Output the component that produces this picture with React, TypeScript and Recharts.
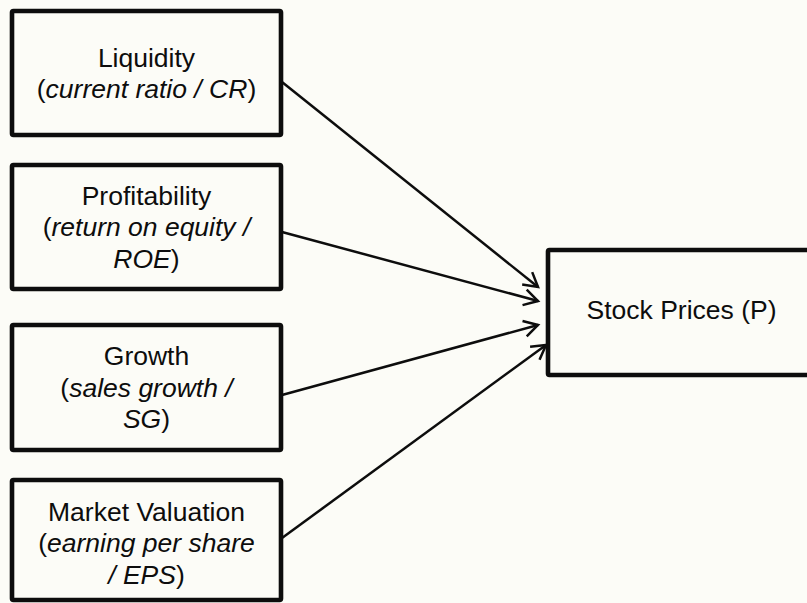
import React from 'react';
import { ComposedChart, XAxis, YAxis, ReferenceArea, ReferenceLine } from 'recharts';

// ---- content ----
const factorTitles = ['Liquidity', 'Profitability', 'Growth', 'Market Valuation'];
const factorMeasures = [
  ['(*current ratio / CR*)'],
  ['(*return on equity /*', '*ROE*)'],
  ['(*sales growth /*', '*SG*)'],
  ['(*earning per share*', '*/ EPS*)'],
];
const outcomeTitle = 'Stock Prices (P)';

// ---- layout (diagram units) ----
const W = 807;
const H = 603;
const boxLeft = 12;
const boxRight = 281;
const boxTops = [11, 165, 325, 480];
const boxBottoms = [135, 289, 450, 600];
const textNudge = [0, 0, 0, 3];
const outcomeX = [548, 815];
const outcomeY = [250, 375];
const outcomeNudge = -3;
const arrowStartX = 282;
const arrowStartY = [82, 232, 395, 538];
const arrowEndX = [538, 538, 538, 546];
const arrowEndY = [287, 301, 325, 345];

// ---- style ----
const FONT = '"Liberation Sans", Arial, Helvetica, sans-serif';
const FONT_SIZE = 26.5;
const LINE_H = 31.5;
const CAP_HALF = 9.4;
const INK = '#0d0d0d';

const parseSegments = (s: string) => {
  const parts = s.split('*');
  return parts
    .map((t, i) => ({ t, italic: i % 2 === 1 }))
    .filter((p) => p.t.length > 0);
};

const makeBoxShape = (lines: string[], nudge: number) => (props: any) => {
  const { x, y, width, height } = props;
  const cx = x + width / 2;
  const cy = y + height / 2 + nudge;
  const n = lines.length;
  return (
    <g>
      <rect
        x={x}
        y={y}
        width={width}
        height={height}
        rx={1.5}
        fill="none"
        stroke={INK}
        strokeWidth={4.6}
        strokeLinejoin="round"
      />
      <text textAnchor="middle" fontFamily={FONT} fontSize={FONT_SIZE} fill={INK}>
        {lines.map((ln, k) => (
          <tspan key={k} x={cx} y={cy + (k - (n - 1) / 2) * LINE_H + CAP_HALF}>
            {parseSegments(ln).map((seg, j) => (
              <tspan key={j} fontStyle={seg.italic ? 'italic' : 'normal'}>
                {seg.t}
              </tspan>
            ))}
          </tspan>
        ))}
      </text>
    </g>
  );
};

const arrowShape = (props: any) => {
  const { x1, y1, x2, y2 } = props;
  const ang = Math.atan2(y2 - y1, x2 - x1);
  const L = 16;
  const a = Math.PI / 6;
  const ax = x2 - L * Math.cos(ang - a);
  const ay = y2 - L * Math.sin(ang - a);
  const bx = x2 - L * Math.cos(ang + a);
  const by = y2 - L * Math.sin(ang + a);
  return (
    <g>
      <line x1={x1} y1={y1} x2={x2} y2={y2} stroke={INK} strokeWidth={2.5} />
      <polyline
        points={`${ax},${ay} ${x2},${y2} ${bx},${by}`}
        fill="none"
        stroke={INK}
        strokeWidth={2.5}
        strokeLinejoin="miter"
      />
    </g>
  );
};

export default function App() {
  return (
    <div
      style={{
        position: 'absolute',
        left: 0,
        top: 0,
        width: W,
        height: H,
        background: '#fcfcf7',
        overflow: 'hidden',
      }}
    >
      <ComposedChart width={W} height={H} margin={{ top: 0, right: 0, bottom: 0, left: 0 }}>
        <XAxis type="number" dataKey="x" domain={[0, W]} hide allowDataOverflow />
        <YAxis type="number" dataKey="y" domain={[0, H]} hide reversed allowDataOverflow />
        {factorTitles.map((title, i) => (
          <ReferenceArea
            key={title}
            x1={boxLeft}
            x2={boxRight}
            y1={boxTops[i]}
            y2={boxBottoms[i]}
            ifOverflow="visible"
            shape={makeBoxShape([title, ...factorMeasures[i]], textNudge[i])}
          />
        ))}
        <ReferenceArea
          x1={outcomeX[0]}
          x2={outcomeX[1]}
          y1={outcomeY[0]}
          y2={outcomeY[1]}
          ifOverflow="visible"
          shape={makeBoxShape([outcomeTitle], outcomeNudge)}
        />
        {arrowStartY.map((sy, i) => (
          <ReferenceLine
            key={`arrow-${i}`}
            segment={[
              { x: arrowStartX, y: sy },
              { x: arrowEndX[i], y: arrowEndY[i] },
            ]}
            ifOverflow="visible"
            shape={arrowShape}
          />
        ))}
      </ComposedChart>
    </div>
  );
}
